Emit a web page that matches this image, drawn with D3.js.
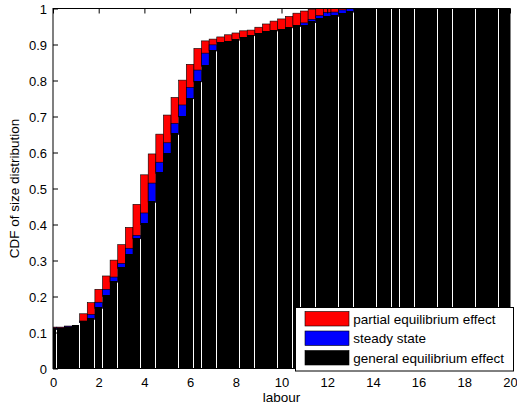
<!DOCTYPE html>
<html>
<head>
<meta charset="utf-8">
<script src="https://cdn.jsdelivr.net/npm/d3@7"></script>
<style>
  body { margin: 0; background: #fff; }
  svg text { font-family: "Liberation Sans", Arial, Helvetica, sans-serif; }
</style>
</head>
<body>
<div id="chart"></div>
<script>
// bin centres along labour axis (steps of 1/3)
const labour = d3.range(0, 61).map(i => i / 3);

// CDF, one value per bin
const partialEq = [
  0.115, 0.115, 0.118, 0.120, 0.152, 0.183, 0.220, 0.257, 0.301, 0.344,
  0.392, 0.456, 0.538, 0.596, 0.651, 0.704, 0.753, 0.801, 0.845, 0.889,
  0.910, 0.915, 0.921, 0.927, 0.932, 0.938, 0.940, 0.948, 0.957, 0.965,
  0.971, 0.978, 0.987, 0.993, 0.998, 1.000, 1.000, 1.000, 1.000, 1.000,
  1.000, 1.000, 1.000, 1.000, 1.000, 1.000, 1.000, 1.000, 1.000, 1.000,
  1.000, 1.000, 1.000, 1.000, 1.000, 1.000, 1.000, 1.000, 1.000, 1.000, 1.000
];
const steadyState = [
  0.113, 0.113, 0.117, 0.120, 0.132, 0.150, 0.184, 0.220, 0.254, 0.292,
  0.334, 0.370, 0.432, 0.515, 0.573, 0.627, 0.681, 0.732, 0.781, 0.829,
  0.876, 0.899, 0.907, 0.909, 0.914, 0.922, 0.927, 0.931, 0.938, 0.940,
  0.943, 0.949, 0.953, 0.960, 0.970, 0.980, 0.989, 0.990, 0.996, 1.000,
  1.000, 1.000, 1.000, 1.000, 1.000, 1.000, 1.000, 1.000, 1.000, 1.000,
  1.000, 1.000, 1.000, 1.000, 1.000, 1.000, 1.000, 1.000, 1.000, 1.000, 1.000
];
const generalEq = [
  0.112, 0.112, 0.116, 0.120, 0.131, 0.140, 0.170, 0.204, 0.243, 0.281,
  0.319, 0.363, 0.403, 0.465, 0.545, 0.599, 0.653, 0.702, 0.752, 0.799,
  0.843, 0.885, 0.907, 0.909, 0.914, 0.922, 0.927, 0.931, 0.938, 0.940,
  0.943, 0.949, 0.953, 0.954, 0.964, 0.975, 0.979, 0.981, 0.988, 0.993,
  0.998, 1.000, 1.000, 1.000, 1.000, 1.000, 1.000, 1.000, 1.000, 1.000,
  1.000, 1.000, 1.000, 1.000, 1.000, 1.000, 1.000, 1.000, 1.000, 1.000, 1.000
];

const seriesNames = ["partial equilibrium effect", "steady state", "general equilibrium effect"];
const seriesColors = ["#ff0000", "#0000ff", "#000000"];
const xTicks = [0, 2, 4, 6, 8, 10, 12, 14, 16, 18, 20];
const yTicks = [0, 0.1, 0.2, 0.3, 0.4, 0.5, 0.6, 0.7, 0.8, 0.9, 1];

const W = 517, H = 410;
const margin = { top: 8.5, right: 7, bottom: 41.5, left: 53 };
const innerW = W - margin.left - margin.right;
const innerH = H - margin.top - margin.bottom;
const tickFont = "13px";
const labelFont = "13.5px";

const svg = d3.select("#chart").append("svg")
  .attr("width", W)
  .attr("height", H);

svg.append("defs").append("clipPath")
  .attr("id", "plotClip")
  .append("rect")
  .attr("width", innerW)
  .attr("height", innerH);

const g = svg.append("g")
  .attr("transform", `translate(${margin.left},${margin.top})`);

const x = d3.scaleLinear().domain([0, 20]).range([0, innerW]);
const y = d3.scaleLinear().domain([0, 1]).range([innerH, 0]);
const binW = x(1 / 3) - x(0);

const bars = g.append("g").attr("clip-path", "url(#plotClip)");

const binData = labour.map((l, i) => ({
  l, pe: partialEq[i], ss: steadyState[i], ge: generalEq[i]
}));

// red and blue only show above the black bars, so draw them down to the black top
[["pe", 0], ["ss", 1]].forEach(([key, si]) => {
  bars.append("g")
    .selectAll("rect")
    .data(binData.filter(d => d[key] > d.ge))
    .enter().append("rect")
    .attr("x", d => x(d.l) - binW / 2)
    .attr("width", binW)
    .attr("y", d => y(d[key]))
    .attr("height", d => y(d.ge) - y(d[key]) + 1)
    .attr("fill", seriesColors[si])
    .attr("stroke", "#000")
    .attr("stroke-width", 0.6);
});

// general equilibrium bars in front
bars.append("g")
  .selectAll("rect")
  .data(binData)
  .enter().append("rect")
  .attr("x", d => x(d.l) - binW / 2)
  .attr("width", binW - 0.45)
  .attr("y", d => y(d.ge))
  .attr("height", d => innerH - y(d.ge))
  .attr("fill", seriesColors[2])
  .attr("shape-rendering", "crispEdges");

// axes, MATLAB style: ticks inward, box on
const tickLen = 5;
const xAxis = d3.axisBottom(x).tickValues(xTicks).tickSize(-tickLen).tickFormat(d3.format("d"));
const xAxisTop = d3.axisTop(x).tickValues(xTicks).tickSize(-tickLen).tickFormat("");
const yAxis = d3.axisLeft(y).tickValues(yTicks).tickSize(-tickLen).tickFormat(d => d === 0 || d === 1 ? d : d.toFixed(1));
const yAxisRight = d3.axisRight(y).tickValues(yTicks).tickSize(-tickLen).tickFormat("");

function styleAxis(sel) {
  sel.select(".domain").remove();
  sel.selectAll("line").attr("stroke", "#000");
  sel.selectAll("text").attr("fill", "#000").style("font-size", tickFont);
}

g.append("g").attr("transform", `translate(0,${innerH})`).call(xAxis).call(styleAxis)
  .selectAll("text").attr("y", 18.3).attr("dy", 0);
g.append("g").call(xAxisTop).call(styleAxis);
g.append("g").call(yAxis).call(styleAxis)
  .selectAll("text").attr("x", -6).attr("dy", "0.35em");
g.append("g").attr("transform", `translate(${innerW},0)`).call(yAxisRight).call(styleAxis);

g.append("rect")
  .attr("width", innerW)
  .attr("height", innerH)
  .attr("fill", "none")
  .attr("stroke", "#000")
  .attr("stroke-width", 1);

// axis labels
svg.append("text")
  .attr("x", margin.left + innerW / 2)
  .attr("y", 402)
  .attr("text-anchor", "middle")
  .style("font-size", labelFont)
  .text("labour");

svg.append("text")
  .attr("transform", `translate(19,${margin.top + innerH / 2}) rotate(-90)`)
  .attr("text-anchor", "middle")
  .style("font-size", labelFont)
  .text("CDF of size distribution");

// legend
const legend = svg.append("g").attr("transform", "translate(295.5,307.5)");
legend.append("rect")
  .attr("width", 218)
  .attr("height", 63.5)
  .attr("fill", "#fff")
  .attr("stroke", "#000")
  .attr("stroke-width", 1);

const rows = legend.selectAll("g.row")
  .data(seriesNames)
  .enter().append("g")
  .attr("class", "row")
  .attr("transform", (d, i) => `translate(9.5,${4 + i * 19.5})`);

rows.append("rect")
  .attr("width", 44)
  .attr("height", 14.5)
  .attr("fill", (d, i) => seriesColors[i])
  .attr("stroke", "#000")
  .attr("stroke-width", 0.6);

rows.append("text")
  .attr("x", 48.3)
  .attr("y", 12.3)
  .style("font-size", labelFont)
  .text(d => d);
</script>
</body>
</html>
